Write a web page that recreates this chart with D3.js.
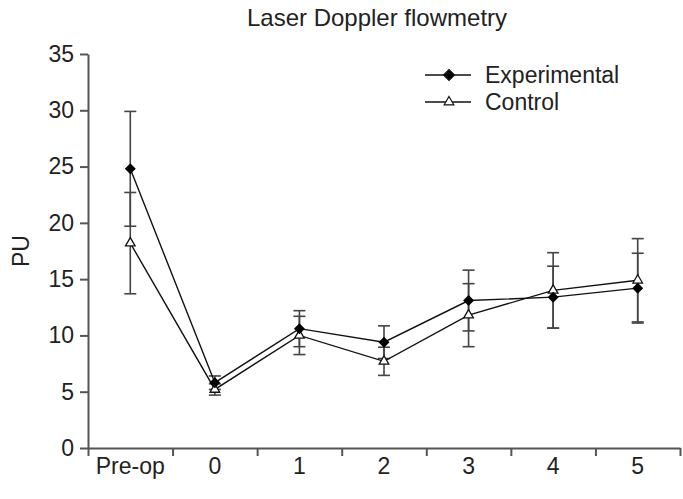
<!DOCTYPE html>
<html>
<head>
<meta charset="utf-8">
<script src="https://cdn.jsdelivr.net/npm/d3@7"></script>
<style>
  body { margin: 0; background: #fff; }
  svg { font-family: "Liberation Sans", Arial, sans-serif; }
  .axis path, .axis line { stroke: #555; stroke-width: 2; }
  .axis text { fill: #222; font-size: 23px; }
</style>
</head>
<body>
<div id="chart"></div>
<script>
// Data
var categories = ['Pre-op', '0', '1', '2', '3', '4', '5'];
var expMean = [24.8, 5.8, 10.6, 9.4, 13.1, 13.4, 14.2];
var expSd   = [5.1, 0.6, 1.6, 1.45, 2.7, 2.75, 3.1];
var ctlMean = [18.2, 5.2, 10.0, 7.7, 11.8, 14.0, 14.9];
var ctlSd   = [4.5, 0.5, 1.7, 1.25, 2.8, 3.35, 3.7];
var yTicks  = [0, 5, 10, 15, 20, 25, 30, 35];

var width = 683, height = 499;
var margin = {top: 54, right: 3, bottom: 51, left: 88};

var svg = d3.select('#chart').append('svg')
    .attr('width', width)
    .attr('height', height);

// Scales
var xScale = d3.scaleBand()
    .domain(categories)
    .range([margin.left, width - margin.right])
    .padding(0);
var xEdge = d3.scaleLinear()
    .domain([0, categories.length])
    .range([margin.left, width - margin.right]);
var yScale = d3.scaleLinear()
    .domain([0, 35])
    .range([height - margin.bottom, margin.top]);

function cx(i) { return xScale(categories[i]) + xScale.bandwidth() / 2; }

// Y axis
svg.append('g')
    .attr('class', 'axis')
    .attr('transform', 'translate(' + margin.left + ',0)')
    .call(d3.axisLeft(yScale).tickValues(yTicks).tickSize(8).tickPadding(6).tickSizeOuter(0));

// X axis: ticks at band edges, labels at band centres
svg.append('g')
    .attr('class', 'axis')
    .attr('transform', 'translate(0,' + (height - margin.bottom) + ')')
    .call(d3.axisBottom(xEdge).tickValues(d3.range(categories.length + 1)).tickFormat('').tickSize(8).tickSizeOuter(0));
svg.append('g')
    .attr('class', 'axis')
    .attr('transform', 'translate(0,' + (height - margin.bottom) + ')')
    .call(d3.axisBottom(xScale).tickSize(0).tickPadding(10))
    .call(function(g) { g.select('.domain').remove(); });

// Title and axis label
svg.append('text')
    .attr('x', 377).attr('y', 26)
    .attr('text-anchor', 'middle')
    .style('font-size', '24px').style('fill', '#222')
    .text('Laser Doppler flowmetry');
svg.append('text')
    .attr('transform', 'translate(29,' + (yScale(17.5)) + ') rotate(-90)')
    .attr('text-anchor', 'middle')
    .style('font-size', '23px').style('fill', '#222')
    .text('PU');

var line = d3.line()
    .x(function(d, i) { return cx(i); })
    .y(function(d) { return yScale(d); });

function errorBars(mean, sd) {
  var g = svg.append('g').attr('stroke', '#444').attr('stroke-width', 1.6);
  mean.forEach(function(m, i) {
    var x = cx(i), hi = yScale(m + sd[i]), lo = yScale(m - sd[i]);
    g.append('line').attr('x1', x).attr('x2', x).attr('y1', hi).attr('y2', lo);
    g.append('line').attr('x1', x - 6).attr('x2', x + 6).attr('y1', hi).attr('y2', hi);
    g.append('line').attr('x1', x - 6).attr('x2', x + 6).attr('y1', lo).attr('y2', lo);
  });
}

errorBars(ctlMean, ctlSd);
errorBars(expMean, expSd);

svg.append('path').datum(ctlMean)
    .attr('fill', 'none').attr('stroke', '#111').attr('stroke-width', 1.4)
    .attr('d', line);
svg.append('path').datum(expMean)
    .attr('fill', 'none').attr('stroke', '#111').attr('stroke-width', 1.4)
    .attr('d', line);

var diamond = d3.symbol().type(d3.symbolSquare).size(60);
var triangle = d3.symbol().type(d3.symbolTriangle).size(40);

svg.selectAll('.ctl').data(ctlMean).enter().append('path')
    .attr('class', 'ctl')
    .attr('d', triangle)
    .attr('transform', function(d, i) { return 'translate(' + cx(i) + ',' + yScale(d) + ')'; })
    .attr('fill', '#fff').attr('stroke', '#111').attr('stroke-width', 1.3);
svg.selectAll('.exp').data(expMean).enter().append('path')
    .attr('class', 'exp')
    .attr('d', diamond)
    .attr('transform', function(d, i) { return 'translate(' + cx(i) + ',' + yScale(d) + ') rotate(45)'; })
    .attr('fill', '#000');

// Legend
var legend = svg.append('g');
var items = [
  {label: 'Experimental', sym: diamond, fill: '#000', rot: 45, y: 75},
  {label: 'Control', sym: triangle, fill: '#fff', rot: 0, y: 102}
];
items.forEach(function(it) {
  legend.append('line').attr('x1', 425).attr('x2', 471).attr('y1', it.y).attr('y2', it.y)
      .attr('stroke', '#111').attr('stroke-width', 1.4);
  legend.append('path').attr('d', it.sym)
      .attr('transform', 'translate(449,' + it.y + ') rotate(' + it.rot + ')')
      .attr('fill', it.fill).attr('stroke', '#111').attr('stroke-width', 1.2);
  legend.append('text').attr('x', 485).attr('y', it.y + 8)
      .style('font-size', '23px').style('fill', '#222')
      .text(it.label);
});
</script>
</body>
</html>
